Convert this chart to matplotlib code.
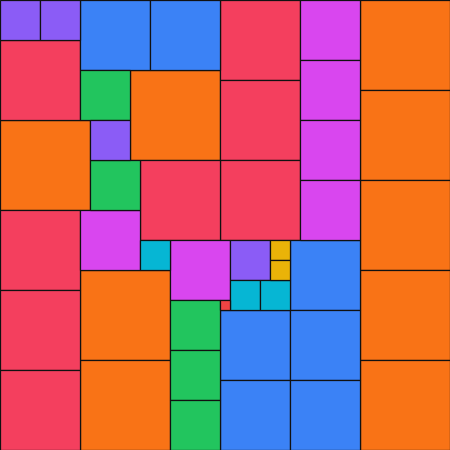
import matplotlib
matplotlib.use("Agg")
import matplotlib.pyplot as plt

# Partridge tiling: n squares of side n (n = 1..9) in a 45 x 45 square.
# Each entry: (column, row) of the square's top-left corner in grid units.
sizes = [9, 8, 7, 6, 5, 4, 3, 2, 1]
colors = ["#f97316", "#f43f5e", "#3b82f6", "#d946ef", "#22c55e",
          "#8b5cf6", "#06b6d4", "#eab308", "#ef4444"]
placements = {
    9: [(36, 0), (36, 9), (36, 18), (36, 27), (36, 36), (13, 7), (0, 12), (8, 27), (8, 36)],
    8: [(22, 0), (22, 8), (22, 16), (0, 4), (14, 16), (0, 21), (0, 29), (0, 37)],
    7: [(8, 0), (15, 0), (29, 24), (22, 31), (22, 38), (29, 31), (29, 38)],
    6: [(30, 0), (30, 6), (30, 12), (30, 18), (8, 21), (17, 24)],
    5: [(8, 7), (9, 16), (17, 30), (17, 35), (17, 40)],
    4: [(0, 0), (4, 0), (9, 12), (23, 24)],
    3: [(14, 24), (23, 28), (26, 28)],
    2: [(27, 24), (27, 26)],
    1: [(22, 30)],
}
side = 45

fig = plt.figure(figsize=(4.5, 4.5), dpi=100)
ax = fig.add_axes([0, 0, 1, 1])

for n, color in zip(sizes, colors):
    xs = [p[0] for p in placements[n]]
    ys = [p[1] for p in placements[n]]
    ax.bar(xs, [n] * len(xs), width=n, bottom=ys, align="edge",
           color=color, edgecolor="#111111", linewidth=0.9)

ax.set_xlim(0, side)
ax.set_ylim(side, 0)
ax.axis("off")
fig.savefig("out.png", dpi=100)
